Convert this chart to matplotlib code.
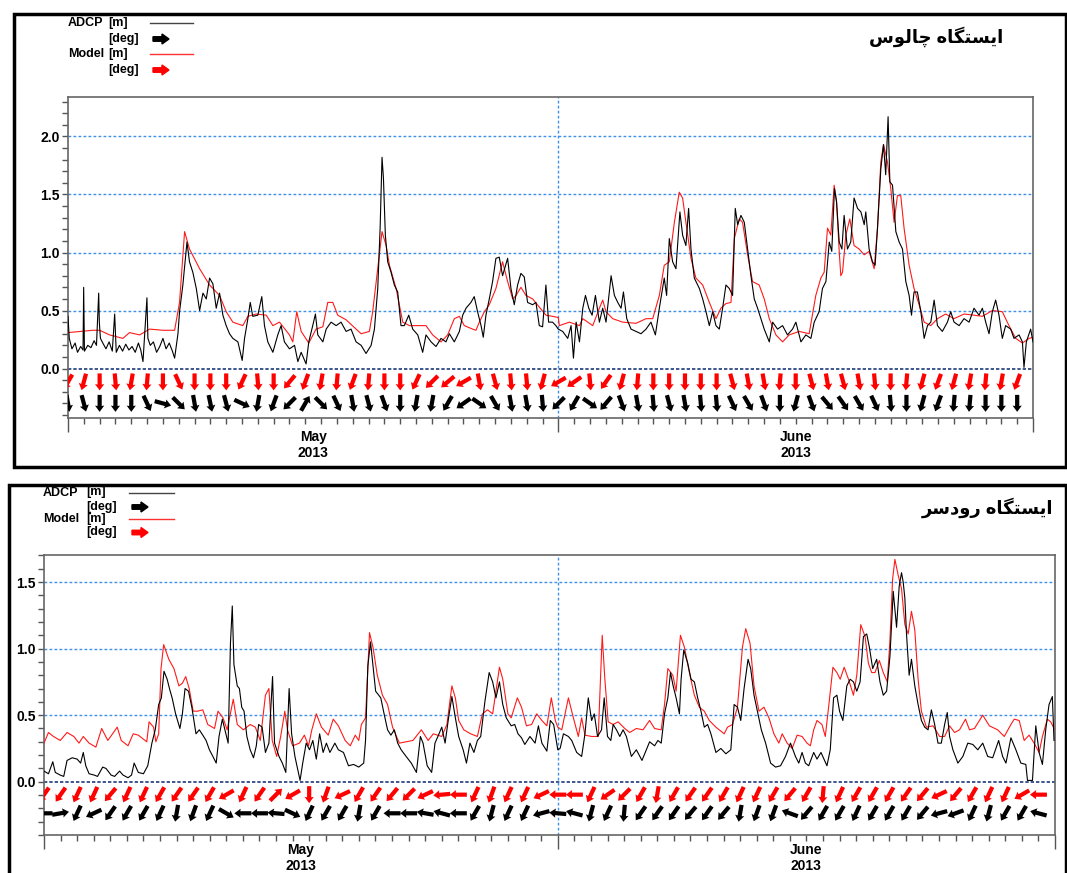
import numpy as np
import matplotlib
matplotlib.use("Agg")
import matplotlib.pyplot as plt
from matplotlib.patches import Rectangle, FancyArrow
from matplotlib.lines import Line2D
from matplotlib.transforms import IdentityTransform

plt.rcParams['font.family'] = ['Liberation Sans', 'DejaVu Sans']

# ---------------- data (days since 2013-05-01 00:00) ----------------
top_title = 'ایستگاه چالوس'
bot_title = 'ایستگاه رودسر'
month_pos = [15.5, 46.0]
month_labels = ['May\n2013', 'June\n2013']

top_adcp_day = [0.00, 0.08, 0.25, 0.45, 0.60, 0.80, 0.95, 0.99, 1.04, 1.25, 1.45, 1.65, 1.80, 1.94, 1.98,
                2.05, 2.20, 2.40, 2.60, 2.80, 2.95, 3.05, 3.25, 3.45, 3.65, 3.85, 4.05, 4.25, 4.45, 4.60,
                4.74, 4.99, 5.05, 5.20, 5.40, 5.60, 5.80, 6.00, 6.20, 6.40, 6.60, 6.74, 6.95, 7.05, 7.26,
                7.52, 7.68, 7.89, 8.11, 8.32, 8.53, 8.74, 8.95, 9.16, 9.37, 9.58, 9.79, 10.0, 10.21, 10.42,
                10.74, 11.01, 11.16, 11.37, 11.52, 11.68, 12.0, 12.25, 12.42, 12.63, 12.95, 13.26, 13.47,
                13.68, 14.0, 14.32, 14.53, 14.74, 15.05, 15.22, 15.47, 15.64, 15.79, 16.11, 16.32, 16.63,
                16.95, 17.26, 17.58, 17.89, 18.21, 18.53, 18.84, 19.16, 19.37, 19.58, 19.73, 19.85, 19.94,
                20.06, 20.21, 20.42, 20.63, 20.84, 21.05, 21.26, 21.54, 21.79, 22.11, 22.42, 22.63, 22.95,
                23.26, 23.58, 23.89, 24.11, 24.42, 24.74, 24.95, 25.16, 25.47, 25.68, 25.89, 26.11, 26.25,
                26.42, 26.63, 26.84, 27.05, 27.26, 27.47, 27.79, 28.0, 28.21, 28.42, 28.63, 28.84, 29.05,
                29.37, 29.58, 29.79, 30.0, 30.21, 30.38, 30.63, 30.84, 30.99,
                31.27, 31.59, 31.80, 31.95, 32.12, 32.33, 32.54, 32.71, 32.92, 33.13, 33.34, 33.59, 33.80,
                34.01, 34.33, 34.54, 34.75, 34.96, 35.11, 35.32, 35.59, 35.91, 36.22, 36.54, 36.85, 37.13,
                37.38, 37.69, 37.84, 38.01, 38.22, 38.43, 38.68, 38.85, 39.06, 39.23, 39.38, 39.59, 39.91,
                40.12, 40.33, 40.54, 40.75, 40.96, 41.17, 41.38, 41.59, 41.80, 42.01, 42.18, 42.33, 42.54,
                42.75, 42.96, 43.17, 43.38, 43.59, 43.80, 44.01, 44.33, 44.54, 44.85, 45.17, 45.48, 45.80,
                46.01, 46.33, 46.64, 46.96, 47.17, 47.48, 47.69, 47.91, 48.12, 48.28, 48.45, 48.58, 48.75,
                48.92, 49.06, 49.27, 49.48, 49.69, 49.91, 50.12, 50.33, 50.43, 50.64, 50.85, 51.02, 51.17,
                51.38, 51.55, 51.69, 51.84, 51.95, 52.12, 52.33, 52.54, 52.75, 52.96, 53.17, 53.32, 53.48,
                53.69, 53.91, 54.12, 54.33, 54.54, 54.75, 54.96, 55.27, 55.59, 55.80, 56.01, 56.33, 56.64,
                56.96, 57.27, 57.59, 57.80, 58.01, 58.22, 58.43, 58.64, 58.85, 59.06, 59.27, 59.59, 59.80,
                60.12, 60.33, 60.43, 60.58, 60.85, 61.0]
top_adcp_val = [0.45, 0.26, 0.17, 0.22, 0.14, 0.19, 0.16, 0.70, 0.15, 0.20, 0.18, 0.24, 0.20, 0.65, 0.40,
                0.26, 0.22, 0.17, 0.23, 0.15, 0.47, 0.14, 0.20, 0.15, 0.21, 0.16, 0.19, 0.14, 0.22, 0.16,
                0.06, 0.61, 0.26, 0.20, 0.23, 0.14, 0.19, 0.26, 0.17, 0.22, 0.15, 0.09, 0.30, 0.49, 0.72,
                1.09, 0.92, 0.83, 0.69, 0.50, 0.65, 0.60, 0.78, 0.73, 0.52, 0.65, 0.46, 0.37, 0.30, 0.26,
                0.23, 0.07, 0.26, 0.43, 0.57, 0.45, 0.46, 0.62, 0.37, 0.23, 0.14, 0.29, 0.37,
                0.23, 0.17, 0.20, 0.06, 0.14, 0.04, 0.23, 0.37, 0.47, 0.29, 0.23, 0.34, 0.40,
                0.37, 0.40, 0.32, 0.34, 0.23, 0.20, 0.13, 0.20, 0.34, 0.69, 1.21, 1.82, 1.64,
                1.15, 0.92, 0.83, 0.72, 0.66, 0.37, 0.37, 0.46, 0.34, 0.29, 0.14, 0.29, 0.23,
                0.19, 0.26, 0.23, 0.30, 0.23, 0.32, 0.46, 0.52, 0.57, 0.62, 0.49, 0.37, 0.27,
                0.46, 0.60, 0.75, 0.95, 0.96, 0.80, 0.95, 0.69, 0.55, 0.72, 0.82, 0.79, 0.57,
                0.55, 0.57, 0.37, 0.36, 0.72, 0.40, 0.40, 0.37, 0.34,
                0.32, 0.26, 0.37, 0.09, 0.40, 0.23, 0.52, 0.63, 0.52, 0.46, 0.63, 0.40, 0.52,
                0.40, 0.80, 0.63, 0.57, 0.52, 0.66, 0.43, 0.34, 0.32, 0.30, 0.34, 0.40, 0.29,
                0.52, 0.78, 0.63, 1.12, 0.92, 0.86, 1.35, 1.15, 1.06, 1.38, 1.03, 0.78, 0.69,
                0.60, 0.49, 0.37, 0.49, 0.37, 0.34, 0.52, 0.72, 0.69, 0.63, 1.38, 1.24, 1.32,
                1.26, 1.03, 0.80, 0.60, 0.52, 0.43, 0.34, 0.23, 0.40, 0.34, 0.37, 0.29, 0.34,
                0.40, 0.23, 0.29, 0.26, 0.40, 0.49, 0.69, 0.75, 1.09, 1.01, 1.55, 1.44, 1.09,
                1.03, 1.32, 1.03, 1.09, 1.47, 1.38, 1.35, 1.24, 1.35, 1.03, 0.92, 0.89, 1.21,
                1.72, 1.93, 1.67, 2.17, 1.61, 1.58, 1.18, 1.09, 1.03, 0.75, 0.63, 0.46, 0.66,
                0.66, 0.49, 0.26, 0.37, 0.40, 0.59, 0.37, 0.32, 0.40, 0.49, 0.40, 0.37, 0.43,
                0.40, 0.52, 0.46, 0.52, 0.40, 0.30, 0.49, 0.59, 0.46, 0.26, 0.37, 0.34, 0.26,
                0.29, 0.23, 0.01, 0.23, 0.34, 0.23]

top_model_day = [0.0, 1.58, 2.0, 2.63, 3.47, 3.89, 4.53, 5.16, 6.0, 6.74, 7.05, 7.37, 7.68, 8.32, 8.95,
                 9.58, 10.0, 10.42, 11.05, 11.37, 11.89, 12.53, 12.95, 13.37, 14.0, 14.21, 14.46, 14.74,
                 15.22, 15.68, 16.11, 16.42, 16.74, 17.05, 17.58, 18.21, 18.53, 19.05, 19.26, 19.58, 19.85,
                 20.11, 20.32, 20.74, 21.16, 21.58, 22.21, 22.63, 23.05, 23.58, 24.0, 24.42, 24.74, 25.05,
                 25.58, 25.79, 26.0, 26.32, 26.63, 27.05, 27.47, 27.79, 28.11, 28.32, 28.63, 28.95, 29.37,
                 29.79, 30.21, 30.63, 30.99,
                 31.06, 31.69, 32.33, 32.54, 33.17, 33.59, 33.80, 34.01, 34.43, 35.06, 35.91, 36.54, 36.96,
                 37.38, 37.69, 38.01, 38.33, 38.64, 38.85, 39.06, 39.38, 39.69, 40.12, 40.54, 40.96, 41.27,
                 41.59, 41.91, 42.12, 42.43, 42.64, 42.96, 43.27, 43.69, 44.01, 44.33, 44.75, 45.17, 45.59,
                 46.22, 46.85, 47.27, 47.59, 47.80, 48.01, 48.22, 48.43, 48.58, 48.75, 48.85, 48.96, 49.17,
                 49.42, 49.69, 50.01, 50.33, 50.64, 50.96, 51.17, 51.38, 51.55, 51.80, 52.01, 52.22, 52.43,
                 52.64, 52.85, 53.17, 53.48, 53.80, 54.12, 54.54, 54.96, 55.48, 56.01, 56.64, 57.27, 57.80,
                 58.43, 59.06, 59.48, 59.91, 60.33, 60.75, 61.0]
top_model_val = [0.31, 0.33, 0.33, 0.29, 0.26, 0.31, 0.29, 0.34, 0.33, 0.33, 0.57, 1.18, 1.03, 0.86, 0.72,
                 0.63, 0.49, 0.40, 0.37, 0.45, 0.47, 0.46, 0.37, 0.40, 0.29, 0.23, 0.49, 0.32,
                 0.22, 0.34, 0.36, 0.57, 0.57, 0.46, 0.42, 0.34, 0.30, 0.32, 0.49, 0.86, 1.18,
                 1.06, 0.89, 0.69, 0.40, 0.37, 0.37, 0.37, 0.29, 0.23, 0.29, 0.43, 0.45, 0.37,
                 0.34, 0.33, 0.40, 0.49, 0.55, 0.69, 0.92, 0.75, 0.60, 0.63, 0.70, 0.63, 0.60,
                 0.53, 0.46, 0.45, 0.44,
                 0.37, 0.40, 0.37, 0.43, 0.37, 0.52, 0.59, 0.49, 0.43, 0.40, 0.39, 0.43, 0.43,
                 0.63, 0.89, 0.92, 1.26, 1.52, 1.47, 1.26, 0.95, 0.78, 0.72, 0.57, 0.43, 0.52,
                 0.56, 0.57, 1.12, 1.29, 1.26, 0.98, 0.75, 0.72, 0.60, 0.43, 0.29, 0.23, 0.29,
                 0.32, 0.30, 0.63, 0.78, 0.83, 1.21, 1.15, 1.58, 1.44, 1.01, 0.80, 0.83, 1.15,
                 1.29, 1.06, 1.03, 0.98, 1.01, 0.86, 1.21, 1.78, 1.93, 1.78, 1.55, 1.26, 1.49,
                 1.49, 1.21, 0.89, 0.69, 0.55, 0.40, 0.37, 0.43, 0.47, 0.43, 0.47, 0.46, 0.45,
                 0.50, 0.49, 0.37, 0.26, 0.22, 0.26, 0.27]

bot_adcp_day = [0.0, 0.27, 0.53, 0.68, 0.98, 1.19, 1.39, 1.70, 2.0, 2.21, 2.37, 2.52, 2.72, 3.03, 3.23,
                3.54, 3.74, 4.05, 4.26, 4.56, 4.77, 5.07, 5.28, 5.44, 5.69, 6.0, 6.26, 6.51, 6.71, 6.92,
                7.08, 7.24, 7.43, 7.57, 7.73, 7.94, 8.20, 8.35, 8.51, 8.72, 8.92, 9.17, 9.37, 9.58, 9.78,
                9.98, 10.19, 10.39, 10.56, 10.76, 10.97, 11.11, 11.25, 11.36, 11.46, 11.66, 11.79, 11.93,
                12.07, 12.24, 12.44, 12.64, 12.81, 12.95, 13.16, 13.36, 13.57, 13.79, 13.91, 14.18, 14.38,
                14.59, 14.79, 14.94, 15.14, 15.45, 15.61, 15.82, 16.02, 16.22, 16.43, 16.63, 16.84, 17.04,
                17.25, 17.55, 17.76, 18.07, 18.37, 18.68, 18.99, 19.29, 19.40, 19.54, 19.70, 19.81, 20.01,
                20.32, 20.52, 20.73, 20.93, 21.14, 21.34, 21.55, 21.85, 22.16, 22.47, 22.71, 22.87, 23.12,
                23.39, 23.59, 23.80, 24.0, 24.20, 24.41, 24.61, 24.82, 25.02, 25.29, 25.49, 25.70, 25.94,
                26.15, 26.35, 26.60, 26.86, 27.07, 27.27, 27.48, 27.68, 27.89, 28.19, 28.40, 28.60, 28.81,
                29.01, 29.32, 29.63, 29.83, 30.04, 30.34, 30.55, 30.75, 31.0,
                31.14, 31.34, 31.64, 31.84, 32.14, 32.44, 32.64, 32.84, 33.04, 33.20, 33.40, 33.64, 33.80,
                34.0, 34.20, 34.34, 34.54, 34.74, 34.94, 35.14, 35.44, 35.74, 36.08, 36.34, 36.54, 36.84,
                37.04, 37.24, 37.44, 37.64, 37.80, 37.96, 38.14, 38.34, 38.44, 38.60, 38.84, 39.04, 39.24,
                39.44, 39.64, 39.84, 40.04, 40.24, 40.54, 40.84, 41.14, 41.44, 41.64, 41.84, 42.04, 42.24,
                42.48, 42.64, 42.84, 43.04, 43.28, 43.54, 43.84, 44.14, 44.44, 44.74, 45.04, 45.34, 45.54,
                45.74, 45.94, 46.14, 46.44, 46.64, 46.88, 47.24, 47.44, 47.64, 47.84, 48.0, 48.20, 48.44,
                48.64, 48.84, 49.04, 49.24, 49.44, 49.64, 49.80, 50.0, 50.24, 50.44, 50.64, 50.84, 51.04,
                51.24, 51.44, 51.60, 51.74, 51.84, 51.94, 52.04, 52.20, 52.34, 52.54, 52.74, 52.94, 53.14,
                53.34, 53.54, 53.74, 53.94, 54.14, 54.34, 54.50, 54.64, 54.84, 55.14, 55.44, 55.74, 56.04,
                56.34, 56.64, 56.94, 57.24, 57.60, 57.84, 58.04, 58.34, 58.64, 58.94, 59.24, 59.34, 59.64,
                59.84, 60.04, 60.24, 60.44, 60.64, 60.84, 60.94]
bot_adcp_val = [0.08, 0.06, 0.15, 0.07, 0.05, 0.04, 0.16, 0.18, 0.17, 0.14, 0.22, 0.12, 0.06, 0.05, 0.04,
                0.11, 0.10, 0.05, 0.04, 0.08, 0.05, 0.03, 0.05, 0.14, 0.07, 0.06, 0.12, 0.29, 0.39, 0.58,
                0.63, 0.83, 0.77, 0.70, 0.63, 0.51, 0.40, 0.51, 0.70, 0.68, 0.56, 0.36, 0.39, 0.35, 0.31,
                0.24, 0.19, 0.14, 0.34, 0.47, 0.36, 0.29, 1.04, 1.32, 0.88, 0.72, 0.70, 0.56,
                0.53, 0.34, 0.24, 0.18, 0.27, 0.43, 0.41, 0.22, 0.29, 0.79, 0.29, 0.19, 0.14,
                0.07, 0.70, 0.36, 0.19, 0.01, 0.14, 0.29, 0.24, 0.31, 0.17, 0.36, 0.22, 0.29,
                0.22, 0.29, 0.24, 0.22, 0.12, 0.13, 0.11, 0.14, 0.31, 0.87, 1.05, 0.92, 0.68,
                0.63, 0.51, 0.39, 0.35, 0.39, 0.29, 0.24, 0.19, 0.14, 0.07, 0.34, 0.29, 0.12,
                0.07, 0.29, 0.35, 0.41, 0.29, 0.48, 0.64, 0.48, 0.34, 0.24, 0.14, 0.29, 0.22,
                0.31, 0.34, 0.60, 0.82, 0.75, 0.63, 0.75, 0.58, 0.48, 0.42, 0.43, 0.36, 0.33,
                0.28, 0.34, 0.29, 0.42, 0.29, 0.23, 0.46, 0.43, 0.24,
                0.25, 0.36, 0.34, 0.31, 0.22, 0.19, 0.36, 0.63, 0.46, 0.51, 0.34, 0.39, 0.63,
                0.34, 0.31, 0.43, 0.39, 0.34, 0.39, 0.34, 0.19, 0.24, 0.16, 0.24, 0.30, 0.27,
                0.31, 0.29, 0.51, 0.63, 0.82, 0.72, 0.63, 0.51, 0.77, 0.99, 0.89, 0.77, 0.75,
                0.63, 0.53, 0.41, 0.43, 0.36, 0.22, 0.25, 0.21, 0.24, 0.58, 0.56, 0.46, 0.70,
                0.92, 0.85, 0.65, 0.53, 0.39, 0.29, 0.14, 0.11, 0.12, 0.19, 0.29, 0.19, 0.14,
                0.22, 0.14, 0.12, 0.22, 0.17, 0.22, 0.12, 0.24, 0.63, 0.65, 0.53, 0.46, 0.72,
                0.77, 0.75, 0.68, 0.75, 1.09, 1.11, 1.01, 0.85, 0.92, 0.75, 0.65, 0.68, 0.94,
                1.43, 1.16, 1.47, 1.57, 1.50, 1.38, 1.11, 0.80, 0.92, 0.72, 0.58, 0.46, 0.41,
                0.39, 0.54, 0.43, 0.29, 0.29, 0.43, 0.52, 0.34, 0.24, 0.14, 0.19, 0.29, 0.28,
                0.24, 0.29, 0.19, 0.18, 0.31, 0.19, 0.14, 0.33, 0.24, 0.14, 0.13, 0.01, 0.01,
                0.42, 0.22, 0.13, 0.39, 0.58, 0.64, 0.31]

bot_model_day = [0.0, 0.27, 0.57, 0.98, 1.39, 1.80, 2.11, 2.37, 2.72, 3.13, 3.48, 3.85, 4.42, 4.66, 5.07,
                 5.38, 5.69, 6.20, 6.34, 6.61, 6.75, 6.92, 7.06, 7.22, 7.53, 7.84, 8.14, 8.35, 8.55, 8.76,
                 9.0, 9.27, 9.58, 9.88, 10.29, 10.50, 10.80, 11.05, 11.42, 11.66, 12.03, 12.44, 12.75,
                 13.05, 13.36, 13.57, 13.77, 14.04, 14.28, 14.53, 14.69, 15.0, 15.41, 15.71, 15.96, 16.16,
                 16.43, 16.74, 17.15, 17.45, 17.76, 18.17, 18.48, 18.78, 18.99, 19.15, 19.40, 19.64, 19.85,
                 20.11, 20.42, 20.73, 21.03, 21.44, 21.85, 22.26, 22.77, 23.18, 23.49, 24.0, 24.31, 24.61,
                 24.82, 25.02, 25.33, 25.74, 26.15, 26.45, 26.76, 27.07, 27.48, 27.68, 27.99, 28.19, 28.56,
                 28.81, 29.11, 29.42, 29.73, 30.04, 30.34, 30.61, 30.85, 31.0,
                 31.24, 31.64, 31.94, 32.24, 32.44, 32.64, 33.04, 33.44, 33.68, 33.84, 34.04, 34.34, 34.64,
                 35.04, 35.34, 35.74, 36.14, 36.54, 36.84, 37.24, 37.44, 37.64, 37.94, 38.14, 38.40, 38.64,
                 38.94, 39.24, 39.54, 39.84, 40.14, 40.54, 41.04, 41.24, 41.54, 41.84, 42.14, 42.34, 42.60,
                 42.84, 43.14, 43.44, 43.74, 44.04, 44.34, 44.54, 44.84, 45.14, 45.44, 45.74, 46.04, 46.24,
                 46.44, 46.64, 46.94, 47.14, 47.34, 47.60, 47.84, 48.04, 48.28, 48.54, 48.84, 49.04, 49.28,
                 49.54, 49.74, 49.94, 50.14, 50.40, 50.64, 50.88, 51.04, 51.20, 51.34, 51.54, 51.74, 51.94,
                 52.14, 52.34, 52.54, 52.74, 52.94, 53.24, 53.64, 54.04, 54.34, 54.64, 54.94, 55.24, 55.60,
                 55.84, 56.14, 56.64, 57.04, 57.54, 57.94, 58.34, 58.54, 58.84, 59.14, 59.44, 59.74, 60.04,
                 60.24, 60.54, 60.74, 60.94]
bot_model_val = [0.29, 0.37, 0.34, 0.31, 0.37, 0.34, 0.29, 0.34, 0.29, 0.26, 0.40, 0.31, 0.41, 0.31, 0.27,
                 0.36, 0.35, 0.30, 0.45, 0.41, 0.30, 0.36, 0.85, 1.03, 0.92, 0.85, 0.72, 0.74, 0.79, 0.70,
                 0.53, 0.53, 0.54, 0.43, 0.40, 0.53, 0.48, 0.39, 0.62, 0.43, 0.39, 0.43, 0.41,
                 0.31, 0.65, 0.70, 0.31, 0.19, 0.34, 0.53, 0.39, 0.27, 0.29, 0.35, 0.27, 0.39,
                 0.51, 0.41, 0.35, 0.47, 0.42, 0.31, 0.27, 0.35, 0.31, 0.43, 0.48, 1.12, 1.01,
                 0.80, 0.65, 0.58, 0.41, 0.29, 0.30, 0.31, 0.39, 0.31, 0.36, 0.34, 0.43, 0.72,
                 0.63, 0.46, 0.39, 0.36, 0.34, 0.51, 0.54, 0.51, 0.86, 0.77, 0.51, 0.48, 0.63,
                 0.56, 0.42, 0.43, 0.51, 0.46, 0.42, 0.63, 0.46, 0.41,
                 0.39, 0.63, 0.48, 0.34, 0.48, 0.35, 0.34, 0.34, 1.10, 0.77, 0.45, 0.43, 0.45,
                 0.40, 0.37, 0.40, 0.39, 0.46, 0.40, 0.39, 0.58, 0.85, 0.80, 0.68, 1.10, 1.01,
                 0.82, 0.65, 0.56, 0.53, 0.46, 0.41, 0.36, 0.41, 0.43, 0.56, 1.01, 1.15, 1.04,
                 0.72, 0.53, 0.56, 0.48, 0.36, 0.29, 0.36, 0.29, 0.25, 0.35, 0.34, 0.29, 0.27,
                 0.39, 0.46, 0.43, 0.34, 0.56, 0.86, 0.82, 0.77, 0.86, 0.77, 0.65, 0.80, 1.18,
                 1.09, 0.89, 0.82, 0.82, 0.91, 0.82, 0.75, 1.06, 1.52, 1.67, 1.55, 1.45, 1.18,
                 1.11, 1.28, 1.14, 0.77, 0.53, 0.41, 0.42, 0.34, 0.34, 0.42, 0.37, 0.39, 0.47,
                 0.39, 0.40, 0.50, 0.42, 0.39, 0.34, 0.43, 0.47, 0.46, 0.31, 0.35, 0.29, 0.22,
                 0.34, 0.47, 0.45, 0.40]

# daily direction arrows (compass degrees, direction towards), one per day May 1 .. June 30
arrow_day = np.arange(61)
top_model_dir = [210, 195, 180, 175, 190, 185, 180, 155, 180, 180, 180, 205, 175, 180, 220, 200, 190, 185,
                 200, 185, 180, 180, 205, 225, 230, 240, 170, 165, 175, 175, 195,
                 240, 235, 175, 215, 195, 185, 180, 180, 180, 180, 180, 165, 170, 170, 185, 180, 165,
                 170, 165, 170, 175, 180, 185, 195, 200, 195, 190, 185, 190, 200]
top_adcp_dir = [170, 165, 180, 180, 180, 155, 105, 135, 170, 168, 165, 115, 190, 200, 225, 30, 135, 155,
                170, 165, 160, 180, 190, 190, 210, 235, 125, 150, 170, 170, 175,
                225, 210, 125, 220, 160, 170, 175, 165, 170, 175, 175, 155, 150, 160, 180, 195, 160,
                140, 145, 150, 155, 175, 180, 195, 200, 185, 185, 180, 180, 180]
bot_model_dir = [215, 215, 205, 205, 220, 205, 205, 210, 215, 215, 210, 240, 205, 215, 45, 240, 180, 200,
                 245, 210, 215, 220, 225, 245, 265, 270, 205, 200, 205, 205, 245,
                 270, 270, 205, 235, 225, 210, 190, 210, 215, 215, 210, 205, 205, 210, 220, 210, 185,
                 205, 210, 210, 210, 215, 220, 245, 220, 210, 205, 205, 240, 270]
bot_adcp_dir = [270, 80, 205, 245, 215, 210, 210, 205, 190, 200, 205, 120, 270, 270, 275, 115, 205, 210,
                210, 190, 210, 270, 270, 280, 285, 270, 210, 195, 205, 205, 255,
                275, 285, 195, 205, 185, 215, 215, 215, 220, 215, 220, 190, 200, 200, 290, 220, 210,
                210, 205, 210, 210, 210, 220, 255, 250, 205, 195, 210, 210, 285]

# ---------------- helpers ----------------
FORMS = {  # isolated, final, initial, medial
    'ا': ('\uFE8D', '\uFE8E', None, None),
    'ی': ('\uFBFC', '\uFBFD', '\uFBFE', '\uFBFF'),
    'س': ('\uFEB1', '\uFEB2', '\uFEB3', '\uFEB4'),
    'ت': ('\uFE95', '\uFE96', '\uFE97', '\uFE98'),
    'گ': ('\uFB92', '\uFB93', '\uFB94', '\uFB95'),
    'ه': ('\uFEE9', '\uFEEA', '\uFEEB', '\uFEEC'),
    'چ': ('\uFB7A', '\uFB7B', '\uFB7C', '\uFB7D'),
    'ل': ('\uFEDD', '\uFEDE', '\uFEDF', '\uFEE0'),
    'و': ('\uFEED', '\uFEEE', None, None),
    'ر': ('\uFEAD', '\uFEAE', None, None),
    'د': ('\uFEA9', '\uFEAA', None, None),
}


def shape_fa(text):
    # matplotlib has no arabic shaping: pick contextual forms, then reverse for LTR drawing
    out = []
    for i, ch in enumerate(text):
        if ch not in FORMS:
            out.append(ch)
            continue
        prev = text[i - 1] if i > 0 else ' '
        nxt = text[i + 1] if i + 1 < len(text) else ' '
        jp = prev in FORMS and FORMS[prev][2] is not None
        jn = FORMS[ch][2] is not None and nxt in FORMS
        f = FORMS[ch]
        out.append(f[3] if (jp and jn) else f[1] if jp else f[2] if jn else f[0])
    return ''.join(out[::-1])


W, H = 1067, 873
fig = plt.figure(figsize=(W / 100, H / 100), dpi=100)


def fx(x):
    return x / W


def fy(y):
    return 1 - y / H


def arrow_px(x, y, color):
    fig.add_artist(FancyArrow(x, H - y, 16, 0, width=4.5, head_width=10, head_length=7,
                              length_includes_head=True, color=color, transform=IdentityTransform()))


def legend(x0, x1, xl0, xl1, ys):
    kw = dict(fontsize=9, fontweight='bold', va='center')
    fig.text(fx(x0), fy(ys[0]), 'ADCP', **kw)
    fig.text(fx(x1), fy(ys[0]), '[m]', **kw)
    fig.text(fx(x1), fy(ys[1]), '[deg]', **kw)
    fig.text(fx(x0), fy(ys[2]), 'Model', **kw)
    fig.text(fx(x1), fy(ys[2]), '[m]', **kw)
    fig.text(fx(x1), fy(ys[3]), '[deg]', **kw)
    fig.add_artist(Line2D([fx(xl0), fx(xl1)], [fy(ys[0])] * 2, color='#444444', lw=1))
    fig.add_artist(Line2D([fx(xl0), fx(xl1)], [fy(ys[2])] * 2, color='#ff3030', lw=1))
    arrow_px(xl0 + 3, ys[1], 'black')
    arrow_px(xl0 + 3, ys[3], 'red')


def panel(box, ylim, yticks, rows, adcp, model, adir, mdir, lab_off):
    l, t, r, b = box
    ax = fig.add_axes([fx(l), fy(b), fx(r - l), (b - t) / H])
    ax.set_xlim(0, 61)
    ax.set_ylim(*ylim)
    for y in yticks[1:]:
        ax.axhline(y, color='#3d8fe8', lw=1, ls=(0, (2, 1.6)), zorder=1)
    ax.axhline(0, color='#1c3a78', lw=1.2, ls=(0, (2, 1.2)), zorder=1)
    ax.axvline(31, color='#3d8fe8', lw=1, ls=(0, (2, 1.6)), zorder=1)
    ax.plot(model[0], model[1], color='#ff1a1a', lw=0.8, zorder=3)
    ax.plot(adcp[0], adcp[1], color='black', lw=0.8, zorder=4)
    for yrow, dirs, col in ((rows[0], mdir, 'red'), (rows[1], adir, 'black')):
        th = np.deg2rad(dirs)
        ax.quiver(arrow_day, np.full(len(arrow_day), yrow), np.sin(th), np.cos(th),
                  angles='uv', pivot='middle', units='dots', scale_units='dots', scale=1 / 17.0,
                  width=4.2, headwidth=2.2, headlength=1.5, headaxislength=1.4, color=col, zorder=5)
    ax.set_yticks(yticks)
    ax.set_yticklabels(['%.1f' % v for v in yticks], fontsize=10, fontweight='bold')
    ax.set_yticks(np.arange(-0.4, ylim[1], 0.1), minor=True)
    ax.set_xticks([0, 31, 61])
    ax.set_xticklabels([])
    ax.set_xticks(np.arange(0, 62), minor=True)
    ax.tick_params(axis='x', which='major', length=10, width=1, color='#555555')
    ax.tick_params(axis='x', which='minor', length=4, width=1, color='#555555')
    ax.tick_params(axis='y', which='both', length=4, width=1, color='#555555', pad=2)
    for s in ax.spines.values():
        s.set_color('#666666')
        s.set_linewidth(1.2)
    for p, lab in zip(month_pos, month_labels):
        ax.annotate(lab, xy=(p, 0), xycoords=('data', 'axes fraction'), xytext=(0, lab_off),
                    textcoords='offset pixels', ha='center', va='top', fontsize=10,
                    fontweight='bold', linespacing=1.15)
    return ax


# frames
fig.add_artist(Rectangle((fx(13.5), fy(467)), fx(1066 - 13.5), (467 - 14.5) / H, fill=False,
                         lw=2.5, edgecolor='black', transform=fig.transFigure))
fig.add_artist(Rectangle((fx(8.5), fy(880)), fx(1066 - 8.5), (880 - 485) / H, fill=False,
                         lw=2.5, edgecolor='black', transform=fig.transFigure))

panel((68, 97, 1033, 418), (-0.426, 2.34), [0.0, 0.5, 1.0, 1.5, 2.0], (-0.115, -0.30),
      (top_adcp_day, top_adcp_val), (top_model_day, top_model_val), top_adcp_dir, top_model_dir, -12)
panel((44, 555, 1055, 835), (-0.326, 1.703), [0.0, 0.5, 1.0, 1.5], (-0.097, -0.237),
      (bot_adcp_day, bot_adcp_val), (bot_model_day, bot_model_val), bot_adcp_dir, bot_model_dir, -8)

legend(68, 108, 150, 193, (23, 39, 54, 70))
legend(43, 86, 129, 174, (492.5, 507, 519, 532.5))

fig.text(fx(1003), fy(37), shape_fa(top_title), ha='right', va='center', fontsize=13, fontweight='bold')
fig.text(fx(1053), fy(508), shape_fa(bot_title), ha='right', va='center', fontsize=13, fontweight='bold')

fig.savefig('out.png', dpi=100)
